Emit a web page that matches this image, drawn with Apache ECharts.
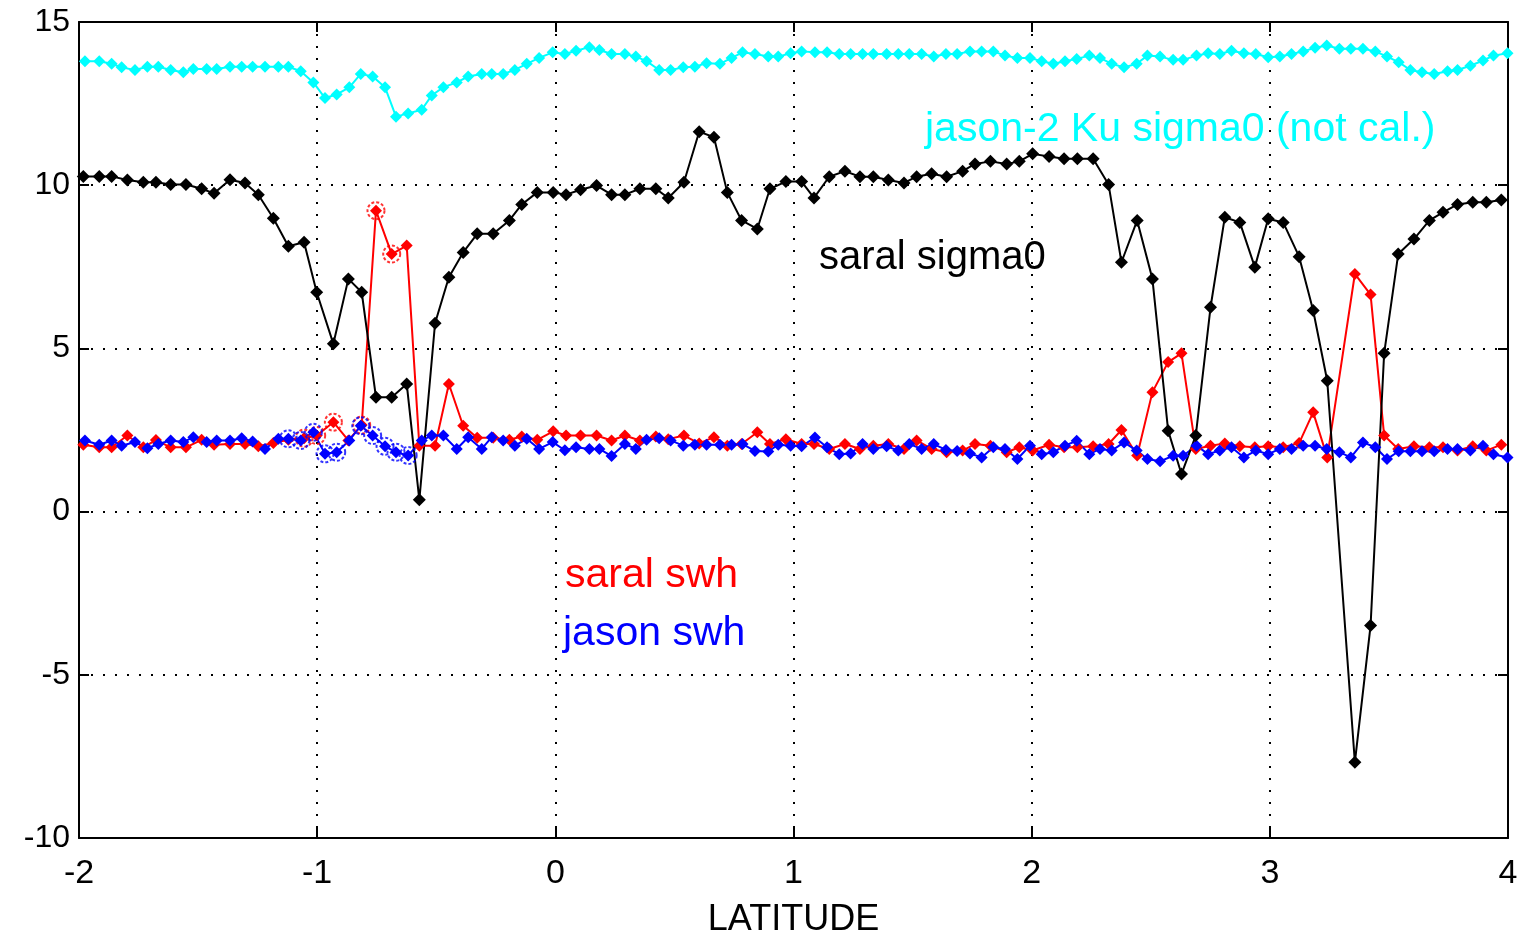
<!DOCTYPE html>
<html>
<head>
<meta charset="utf-8">
<title>saral / jason-2 along track</title>
<script src="https://cdn.jsdelivr.net/npm/echarts@6/dist/echarts.min.js"></script>
<style>
html, body { margin: 0; padding: 0; background: #fff; }
#chart { width: 1527px; height: 938px; }
</style>
</head>
<body>
<div id="chart"></div>
<script>
// saral 1 Hz records
const saralLat = [-1.982,-1.915,-1.863,-1.797,-1.730,-1.677,-1.615,-1.551,-1.485,-1.433,
    -1.366,-1.303,-1.247,-1.184,-1.121,-1.055,-1.002,-0.932,-0.869,-0.813,
    -0.753,-0.687,-0.624,-0.571,-0.505,-0.447,-0.387,-0.328,-0.261,-0.193,
    -0.141,-0.076,-0.009,0.045,0.106,0.173,0.236,0.292,0.355,0.422,
    0.474,0.540,0.604,0.666,0.722,0.782,0.848,0.901,0.968,1.034,
    1.086,1.150,1.216,1.279,1.335,1.398,1.464,1.517,1.580,1.643,
    1.710,1.762,1.827,1.895,1.948,2.004,2.073,2.136,2.192,2.258,
    2.323,2.377,2.443,2.507,2.573,2.629,2.689,2.751,2.811,2.874,
    2.937,2.993,3.056,3.123,3.182,3.241,3.357,3.423,3.480,3.539,
    3.605,3.670,3.727,3.788,3.852,3.909,3.972];
const saralSigma0 = [10.27,10.27,10.27,10.16,10.09,10.09,10.02,10.02,9.89,9.75,
    10.17,10.07,9.71,8.99,8.13,8.25,6.72,5.14,7.13,6.72,
    3.50,3.50,3.91,0.36,5.77,7.18,7.94,8.51,8.51,8.92,
    9.41,9.78,9.78,9.71,9.86,9.99,9.71,9.71,9.89,9.89,
    9.61,10.09,11.64,11.47,9.78,8.92,8.66,9.89,10.11,10.11,
    9.61,10.26,10.43,10.26,10.26,10.16,10.07,10.26,10.35,10.26,
    10.43,10.65,10.73,10.65,10.73,10.96,10.88,10.81,10.81,10.81,
    10.02,7.64,8.92,7.13,2.48,1.15,2.33,6.26,9.02,8.86,
    7.49,8.97,8.86,7.81,6.16,4.01,-7.68,-3.49,4.85,7.89,
    8.35,8.92,9.17,9.41,9.48,9.48,9.55];
const saralSwh = [2.05,1.97,1.97,2.33,1.97,2.19,1.97,1.97,2.20,2.05,
    2.07,2.07,2.00,2.10,2.20,2.25,2.33,2.74,2.18,2.65,
    9.22,7.89,8.15,2.02,2.02,3.91,2.63,2.26,2.26,2.20,
    2.30,2.20,2.46,2.33,2.33,2.33,2.18,2.33,2.18,2.30,
    2.22,2.33,2.09,2.28,2.02,2.07,2.43,2.07,2.22,2.07,
    2.07,1.92,2.07,1.92,2.02,2.07,1.92,2.18,1.92,1.82,
    1.87,2.07,2.02,1.82,1.97,1.87,2.05,1.97,1.97,2.00,
    2.07,2.50,1.72,3.66,4.58,4.85,1.92,2.02,2.09,2.00,
    1.97,2.00,1.97,2.10,3.04,1.66,7.28,6.65,2.33,1.92,
    2.00,1.97,1.97,1.87,2.00,1.87,2.05];
// records marked with a circle
const saralSwhFlagged = [15,16,17,19,20,21];

// jason-2 1 Hz records
const jasonLat = [-1.975,-1.915,-1.863,-1.821,-1.765,-1.713,-1.667,-1.615,-1.562,-1.520,
    -1.464,-1.422,-1.366,-1.317,-1.271,-1.219,-1.163,-1.121,-1.069,-1.016,
    -0.967,-0.918,-0.865,-0.817,-0.767,-0.715,-0.669,-0.618,-0.561,-0.519,
    -0.470,-0.414,-0.366,-0.309,-0.267,-0.219,-0.170,-0.120,-0.068,-0.011,
    0.040,0.087,0.143,0.185,0.236,0.292,0.338,0.383,0.436,0.484,
    0.537,0.586,0.635,0.691,0.740,0.786,0.838,0.894,0.936,0.988,
    1.034,1.090,1.141,1.192,1.240,1.290,1.335,1.391,1.440,1.486,
    1.538,1.589,1.640,1.687,1.741,1.790,1.839,1.888,1.940,1.993,
    2.042,2.091,2.140,2.189,2.242,2.287,2.336,2.388,2.441,2.486,
    2.539,2.594,2.636,2.692,2.741,2.790,2.839,2.891,2.941,2.993,
    3.042,3.091,3.140,3.190,3.239,3.292,3.340,3.391,3.443,3.492,
    3.541,3.590,3.639,3.690,3.746,3.788,3.842,3.895,3.939,3.998];
const jasonSigma0 = [13.80,13.80,13.72,13.61,13.53,13.63,13.63,13.53,13.46,13.56,
    13.56,13.56,13.63,13.63,13.63,13.63,13.63,13.63,13.49,13.15,
    12.67,12.78,13.00,13.41,13.33,13.00,12.10,12.20,12.31,12.75,
    13.00,13.15,13.33,13.41,13.41,13.41,13.53,13.72,13.90,14.07,
    14.02,14.12,14.23,14.14,14.02,14.02,13.94,13.80,13.53,13.53,
    13.61,13.63,13.74,13.72,13.90,14.07,14.02,13.94,13.94,14.04,
    14.10,14.07,14.07,14.02,14.02,14.02,14.02,14.02,14.02,14.02,
    14.02,13.94,14.02,14.02,14.10,14.10,14.10,13.97,13.90,13.90,
    13.80,13.72,13.80,13.87,13.97,13.90,13.72,13.61,13.72,13.97,
    13.94,13.84,13.84,13.97,14.04,14.02,14.12,14.04,14.02,13.92,
    13.94,14.02,14.10,14.21,14.28,14.18,14.18,14.18,14.10,13.94,
    13.77,13.53,13.46,13.41,13.49,13.53,13.66,13.82,13.97,14.04];
const jasonSwh = [2.18,2.05,2.18,2.02,2.13,1.94,2.07,2.18,2.13,2.28,
    2.13,2.18,2.18,2.25,2.15,1.92,2.23,2.23,2.18,2.43,
    1.77,1.82,2.18,2.63,2.33,2.00,1.82,1.72,2.18,2.33,
    2.33,1.92,2.28,1.92,2.28,2.18,2.02,2.23,1.92,2.13,
    1.88,1.97,1.92,1.92,1.70,2.07,1.92,2.20,2.25,2.18,
    2.02,2.05,2.05,2.05,2.05,2.07,1.86,1.84,2.05,2.02,
    2.00,2.27,1.97,1.76,1.78,2.07,1.92,2.00,1.87,2.07,
    1.92,2.07,1.89,1.86,1.78,1.66,1.97,1.92,1.61,2.02,
    1.76,1.82,2.02,2.17,1.76,1.92,1.87,2.12,1.87,1.61,
    1.54,1.71,1.71,2.02,1.76,1.87,1.97,1.66,1.87,1.76,
    1.92,1.92,2.02,2.02,1.92,1.82,1.66,2.12,1.97,1.61,
    1.85,1.85,1.85,1.85,1.92,1.92,1.87,2.02,1.76,1.66];
const jasonSwhFlagged = [17,18,19,20,21,23,24,25,26,27];

const xTicks = { min: -2, max: 4, interval: 1 };
const yTicks = { min: -10, max: 15, interval: 5 };

const pairs = (lat, v) => lat.map((x, i) => [x, v[i]]);
const pick = (lat, v, idx) => idx.map(i => [lat[i], v[i]]);

const font = 'Liberation Sans';
const dotted = { color: '#000', type: [2, 10], width: 2 };

function lineSeries(name, data, color, size) {
    return {
        name: name, type: 'line', data: data,
        symbol: 'diamond', symbolSize: size,
        itemStyle: { color: color },
        lineStyle: { color: color, width: 2 },
        xAxisIndex: 0, yAxisIndex: 0
    };
}
function ringSeries(data, color) {
    return {
        type: 'scatter', data: data, z: 3,
        symbol: 'circle', symbolSize: 17,
        itemStyle: { color: 'rgba(255,255,255,0)', borderColor: color, borderWidth: 2, borderType: [3, 2] },
        xAxisIndex: 0, yAxisIndex: 0
    };
}

const chart = echarts.init(document.getElementById('chart'));
chart.setOption({
    animation: false,
    backgroundColor: '#fff',
    grid: { left: 79, right: 19, top: 22, bottom: 100, show: false, outerBoundsMode: 'none', containLabel: false },
    xAxis: [{
        type: 'value', position: 'bottom', ...xTicks,
        name: 'LATITUDE', nameLocation: 'middle', nameGap: 64,
        nameTextStyle: { color: '#000', fontSize: 36, fontFamily: font },
        axisLine: { show: true, onZero: false, lineStyle: { color: '#000', width: 2 } },
        axisTick: { inside: true, length: 10, lineStyle: { color: '#000', width: 2 } },
        axisLabel: { color: '#000', fontSize: 34, fontFamily: font, margin: 19 },
        splitLine: { show: true, lineStyle: dotted }
    }, {
        type: 'value', position: 'top', ...xTicks,
        axisLine: { show: true, onZero: false, lineStyle: { color: '#000', width: 2 } },
        axisTick: { inside: true, length: 10, lineStyle: { color: '#000', width: 2 } },
        axisLabel: { show: false },
        splitLine: { show: false }
    }],
    yAxis: [{
        type: 'value', position: 'left', ...yTicks,
        axisLine: { show: true, onZero: false, lineStyle: { color: '#000', width: 2 } },
        axisTick: { show: true, inside: true, length: 10, lineStyle: { color: '#000', width: 2 } },
        axisLabel: { color: '#000', fontSize: 32, fontFamily: font, margin: 9 },
        splitLine: { show: true, lineStyle: dotted }
    }, {
        type: 'value', position: 'right', ...yTicks,
        axisLine: { show: true, onZero: false, lineStyle: { color: '#000', width: 2 } },
        axisTick: { show: true, inside: true, length: 10, lineStyle: { color: '#000', width: 2 } },
        axisLabel: { show: false },
        splitLine: { show: false }
    }],
    series: [
        lineSeries('jason-2 Ku sigma0', pairs(jasonLat, jasonSigma0), '#00ffff', 12),
        lineSeries('saral swh', pairs(saralLat, saralSwh), '#ff0000', 12),
        ringSeries(pick(saralLat, saralSwh, saralSwhFlagged), '#ff0000'),
        lineSeries('jason swh', pairs(jasonLat, jasonSwh), '#0000ff', 12),
        ringSeries(pick(jasonLat, jasonSwh, jasonSwhFlagged), '#0000ff'),
        lineSeries('saral sigma0', pairs(saralLat, saralSigma0), '#000000', 13)
    ],
    graphic: [
        { type: 'text', x: 925, y: 130, z: 100, style: { text: 'jason-2 Ku sigma0 (not cal.)', fill: '#00ffff', fontSize: 41, fontFamily: font, verticalAlign: 'middle' } },
        { type: 'text', x: 819, y: 258, z: 100, style: { text: 'saral sigma0', fill: '#000', fontSize: 40, fontFamily: font, verticalAlign: 'middle' } },
        { type: 'text', x: 565, y: 576, z: 100, style: { text: 'saral swh', fill: '#ff0000', fontSize: 41, fontFamily: font, verticalAlign: 'middle' } },
        { type: 'text', x: 563, y: 634, z: 100, style: { text: 'jason swh', fill: '#0000ff', fontSize: 41, fontFamily: font, verticalAlign: 'middle' } }
    ]
});
</script>
</body>
</html>
